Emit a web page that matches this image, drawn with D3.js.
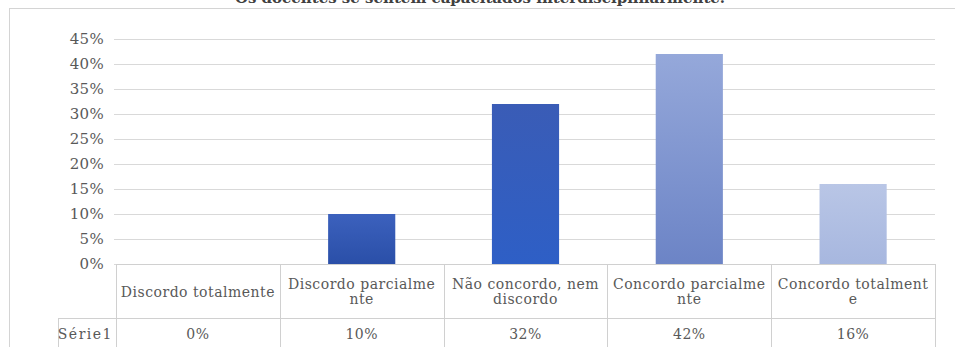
<!DOCTYPE html>
<html><head><meta charset="utf-8">
<script src="https://cdn.jsdelivr.net/npm/d3@7"></script>
<style>
html,body{margin:0;padding:0;background:#fff;overflow:hidden}
</style></head>
<body><svg id="c" width="955" height="347"></svg>
<script>
const title = "Os docentes se sentem capacitados interdisciplinarmente.";
const categories = ["Discordo totalmente","Discordo parcialmente","Não concordo, nem discordo","Concordo parcialmente","Concordo totalmente"];
const categoryLines = [["Discordo totalmente"],["Discordo parcialme","nte"],["Não concordo, nem","discordo"],["Concordo parcialme","nte"],["Concordo totalment","e"]];
const seriesName = "Série1";
const values = [0, 0.10, 0.32, 0.42, 0.16];
const valueLabels = ["0%","10%","32%","42%","16%"];
const yTicks = [0,0.05,0.10,0.15,0.20,0.25,0.30,0.35,0.40,0.45];
const barTop = ["#3c61bd","#3c61bd","#3a5cb6","#95a8da","#b9c6e6"];
const barBottom = ["#2a4fa8","#2a4fa8","#2e5fc6","#6c84c6","#a7b7df"];
const FONT = "DejaVu Serif";

const svg = d3.select("#c");
const defs = svg.append("defs");
values.forEach((v,i)=>{
  const g = defs.append("linearGradient").attr("id","g"+i).attr("x1",0).attr("y1",0).attr("x2",0).attr("y2",1);
  g.append("stop").attr("offset","0%").attr("stop-color",barTop[i]);
  g.append("stop").attr("offset","100%").attr("stop-color",barBottom[i]);
});

const pLeft = 116, pRight = 935, pTop = 39, pBase = 264;
const x = d3.scaleBand().domain(categories).range([pLeft,pRight]).paddingInner(0).paddingOuter(0);
const y = d3.scaleLinear().domain([0,0.45]).range([pBase,pTop]);

svg.append("line").attr("x1",9.5).attr("x2",9.5).attr("y1",8).attr("y2",347).attr("stroke","#d4d4d4");
svg.append("line").attr("x1",9).attr("x2",955).attr("y1",8.5).attr("y2",8.5).attr("stroke","#d4d4d4");

svg.append("text").attr("x",480).attr("y",3).attr("text-anchor","middle")
  .attr("font-size",15).attr("font-weight","bold").attr("fill","#404040").text(title);

const yAxis = d3.axisLeft(y).tickValues(yTicks).tickFormat(d3.format(".0%")).tickSize(-(pRight-pLeft)).tickPadding(12);
const ga = svg.append("g").attr("transform",`translate(${pLeft},0)`).call(yAxis);
ga.select(".domain").remove();
ga.selectAll(".tick line").attr("stroke","#d9d9d9").attr("x1",-2);
ga.selectAll(".tick text").attr("fill","#595959").attr("font-size",15).style("letter-spacing","0.3px");

const bw = x.bandwidth()*0.41;
svg.append("g").selectAll("rect").data(values).join("rect")
  .attr("x",(d,i)=>x(categories[i])+x.bandwidth()/2-bw/2)
  .attr("y",d=>y(d))
  .attr("width",bw)
  .attr("height",d=>pBase-y(d))
  .attr("fill",(d,i)=>`url(#g${i})`);

const rowSplit = 318, tableBottom = 347;
const tg = svg.append("g").attr("stroke","#d0d0d0").attr("stroke-width",1);
tg.append("line").attr("x1",pLeft).attr("x2",pRight).attr("y1",pBase+0.5).attr("y2",pBase+0.5);
tg.append("line").attr("x1",58).attr("x2",pRight).attr("y1",rowSplit+0.5).attr("y2",rowSplit+0.5);
tg.append("line").attr("x1",58.5).attr("x2",58.5).attr("y1",rowSplit).attr("y2",tableBottom);
const bounds = categories.map(c=>x(c)).concat([pRight]);
tg.selectAll("line.v").data(bounds).join("line").attr("class","v")
  .attr("x1",d=>Math.round(d)+0.5).attr("x2",d=>Math.round(d)+0.5).attr("y1",pBase).attr("y2",tableBottom);

const txt = svg.append("g").attr("fill","#595959").attr("font-size",14).attr("text-anchor","middle").style("letter-spacing","0.5px");
categoryLines.forEach((lines,i)=>{
  const cx = x(categories[i])+x.bandwidth()/2;
  const y0 = lines.length===1 ? 293 : 285;
  lines.forEach((l,j)=>{
    txt.append("text").attr("x",cx).attr("y",y0+j*15).attr("dominant-baseline","middle").text(l);
  });
  txt.append("text").attr("x",cx).attr("y",335).attr("dominant-baseline","middle").text(valueLabels[i]);
});
svg.append("text").attr("x",113).attr("y",335).attr("dominant-baseline","middle").attr("text-anchor","end")
  .attr("fill","#595959").attr("font-size",14).style("letter-spacing","1.5px").text(seriesName);

svg.selectAll("text").attr("font-family",FONT).style("font-family",FONT);
</script>
</body></html>
